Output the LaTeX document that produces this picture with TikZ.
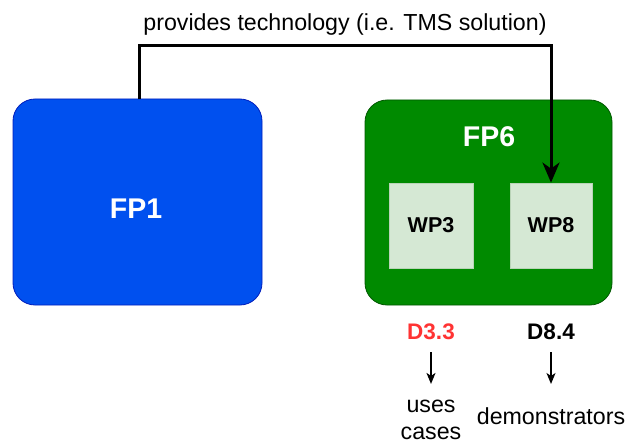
\documentclass[tikz,border=0pt]{standalone}
\usepackage{fontspec}
\setmainfont{Liberation Sans}
\usetikzlibrary{arrows.meta}

\definecolor{fpblue}{HTML}{0050EF}
\definecolor{fpblueline}{HTML}{001DBC}
\definecolor{fpgreen}{HTML}{008A00}
\definecolor{fpgreenline}{HTML}{005700}
\definecolor{wpfill}{HTML}{D5E8D4}
\definecolor{wpline}{HTML}{B9D4B7}
\definecolor{delivred}{HTML}{FF3333}

\tikzset{
  fpbox/.style={rounded corners=22pt, line width=0.8pt, inner sep=0pt},
  wpbox/.style={fill=wpfill, draw=wpline, line width=0.8pt, inner sep=0pt,
    font=\fontsize{21.5}{25}\selectfont\bfseries},
  fplabel/.style={text=white, inner sep=0pt, font=\fontsize{28.5}{32}\selectfont\bfseries},
  plain/.style={inner sep=0pt, font=\fontsize{23.2}{27}\selectfont},
  deliv/.style={inner sep=0pt, font=\fontsize{22.5}{27}\selectfont\bfseries},
  conn/.style={line width=3pt, -{Stealth[length=20pt, width=17pt, inset=6pt]}},
  downarr/.style={line width=1.5pt, -{Stealth[length=11pt, width=9pt, inset=3pt]}}
}

\begin{document}
\begin{tikzpicture}[x=1pt, y=-1pt]
  \useasboundingbox (0,0) rectangle (628,441);

  % framework programme boxes
  \node[fpbox, fill=fpblue, draw=fpblueline, minimum width=249pt, minimum height=206pt]
    (fp1) at (137.5,202) {};
  \node[fplabel, anchor=base] (fp1label) at (136,218) {FP1};

  \node[fpbox, fill=fpgreen, draw=fpgreenline, minimum width=247pt, minimum height=205pt]
    (fp6) at (488.5,202.5) {};
  \node[fplabel, anchor=base] (fp6label) at (489,146) {FP6};

  % work packages inside FP6
  \node[wpbox, minimum width=84pt, minimum height=85pt] (wp3) at (431,225.5) {WP3};
  \node[wpbox, minimum width=82pt, minimum height=85pt] (wp8) at (551,225.5) {WP8};

  % technology transfer connector
  \node[plain, anchor=base] (provides) at (345,31) {provides technology (i.e. TMS solution)};
  \coordinate (bend) at (551,46);
  \draw[conn] ([xshift=1.5pt]fp1.north) |- (bend) -- (wp8.north);

  % deliverables
  \node[deliv, text=delivred, anchor=base] (d33) at (431,339) {D3.3};
  \node[deliv, anchor=base] (d84) at (551,339) {D8.4};

  \node[plain, align=center] (uses) at (431,420) {uses\\cases};
  \node[plain, anchor=base] (demo) at (551,424) {demonstrators};

  \draw[downarr] ([yshift=-13pt]d33.south) -- ([yshift=16pt]uses.north);
  \draw[downarr] ([yshift=-13pt]d84.south) -- ([yshift=23pt]demo.north);
\end{tikzpicture}
\end{document}
